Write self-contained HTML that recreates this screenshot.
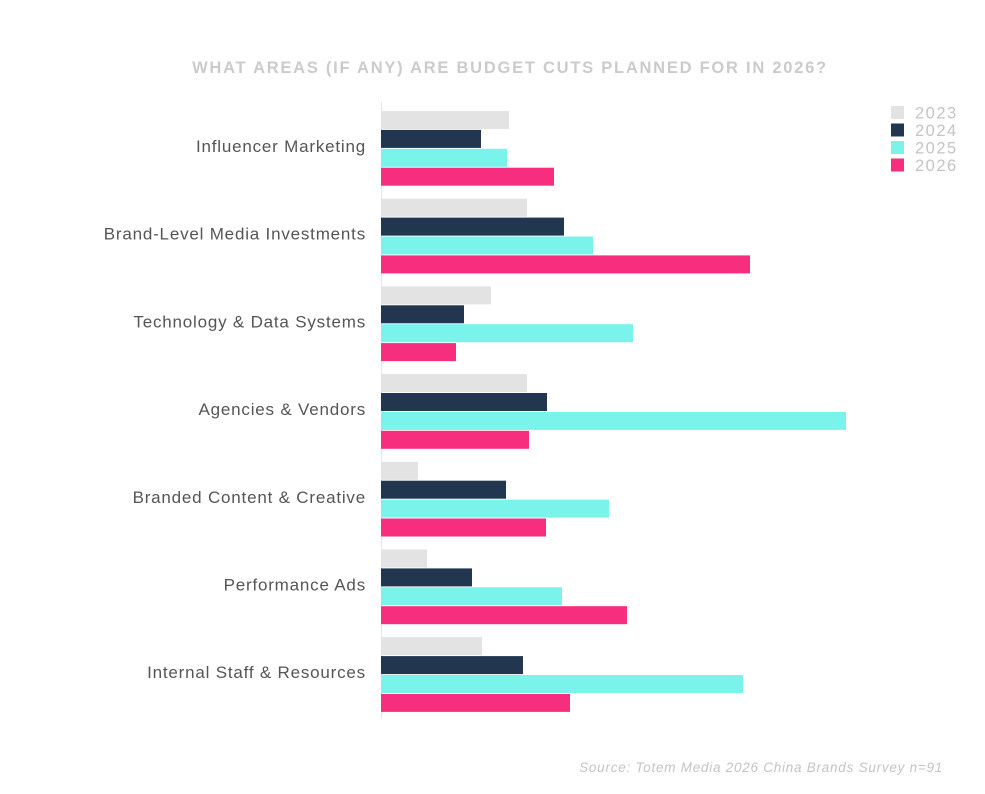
<!DOCTYPE html>
<html><head><meta charset="utf-8"><style>
html,body{margin:0;padding:0;background:#fff;}
body{width:985px;height:789px;overflow:hidden;font-family:"Liberation Sans",sans-serif;}
</style></head><body>
<svg width="985" height="789" xmlns="http://www.w3.org/2000/svg">
<text x="510" y="73" text-anchor="middle" font-size="16.5" font-weight="bold" fill="#cbcbcb" letter-spacing="1.75">WHAT AREAS (IF ANY) ARE BUDGET CUTS PLANNED FOR IN 2026?</text>
<line x1="381.5" y1="102" x2="381.5" y2="718" stroke="#e6e6e6" stroke-width="1"/>
<g id="bars"></g>
<g id="labels"></g>
<g id="legend"></g>
<text x="943" y="772" text-anchor="end" font-size="13.5" font-style="italic" fill="#c4c4c4" letter-spacing="0.75">Source: Totem Media 2026 China Brands Survey n=91</text>
</svg>
<script>
const categories=["Influencer Marketing","Brand-Level Media Investments","Technology & Data Systems","Agencies & Vendors","Branded Content & Creative","Performance Ads","Internal Staff & Resources"];
const seriesNames=["2023","2024","2025","2026"];
const s2023=[12.8,14.6,11.0,14.6,3.7,4.6,10.1];
const s2024=[10.0,18.3,8.3,16.6,12.5,9.1,14.2];
const s2025=[12.6,21.2,25.2,46.5,22.8,18.1,36.2];
const s2026=[17.3,36.9,7.5,14.8,16.5,24.6,18.9];
const colors=["#e3e3e3","#22374f","#7af3ea","#f72d7e"];
const series=[s2023,s2024,s2025,s2026];
const NS="http://www.w3.org/2000/svg";
const x0=381, pxPerUnit=10;
function xs(v){return v*pxPerUnit;}
const groupTop=111, groupPitch=87.7, barH=18, barStep=18.9;
const bars=document.getElementById('bars'),labels=document.getElementById('labels'),legend=document.getElementById('legend');
categories.forEach((c,i)=>{
  const gy=groupTop+i*groupPitch;
  series.forEach((s,j)=>{
    const r=document.createElementNS(NS,'rect');
    r.setAttribute('x',x0);r.setAttribute('y',gy+j*barStep);
    r.setAttribute('width',xs(s[i]));r.setAttribute('height',barH);
    r.setAttribute('fill',colors[j]);
    
    
    bars.appendChild(r);
  });
  const t=document.createElementNS(NS,'text');
  t.setAttribute('x',366);t.setAttribute('y',gy+35+6);
  t.setAttribute('text-anchor','end');t.setAttribute('font-size','17');t.setAttribute('fill','#555');
  t.setAttribute('letter-spacing','0.8');
  t.textContent=c;
  
  
  labels.appendChild(t);
});
seriesNames.forEach((n,j)=>{
  const y=106+j*17.5;
  const r=document.createElementNS(NS,'rect');
  r.setAttribute('x',891);r.setAttribute('y',y);r.setAttribute('width',13);r.setAttribute('height',13);r.setAttribute('fill',colors[j]);
  
  
  legend.appendChild(r);
  const t=document.createElementNS(NS,'text');
  t.setAttribute('x',915);t.setAttribute('y',y+12.5);t.setAttribute('font-size','16.5');t.setAttribute('fill','#c4c4c4');
  t.setAttribute('letter-spacing','1.5');
  t.textContent=n;
  
  
  legend.appendChild(t);
});
</script>
</body></html>
